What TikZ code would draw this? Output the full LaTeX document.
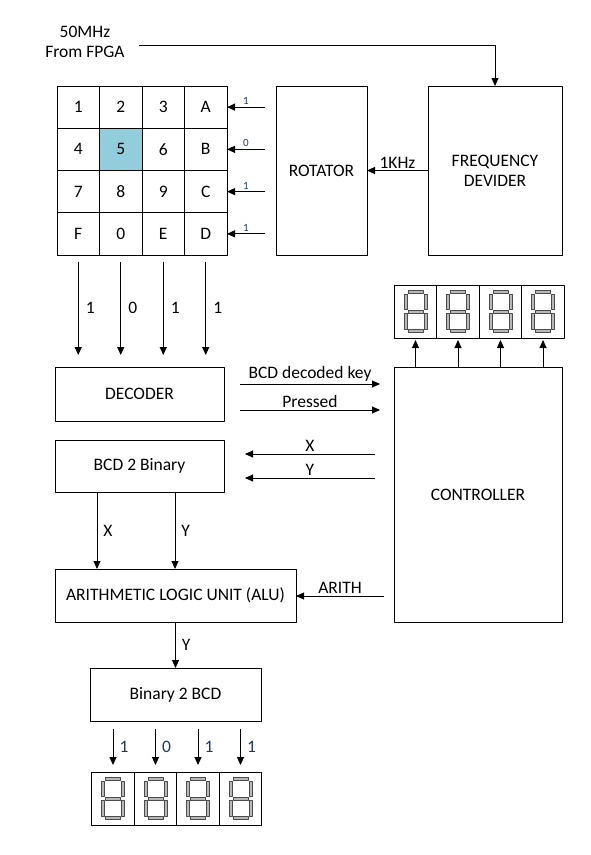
\documentclass[tikz,border=0pt]{standalone}
\usepackage{fontspec}
\setmainfont{Carlito}
\usetikzlibrary{arrows.meta,positioning,calc}

\definecolor{keyblue}{HTML}{92CDDC}
\definecolor{bitblue}{HTML}{1F3864}

\tikzset{
  blk/.style={draw,line width=0.8pt,inner sep=0pt,outer sep=0pt,font=\fontsize{17.5}{20}\selectfont},
  keycell/.style={blk,minimum width=42.5pt,minimum height=42.25pt},
  digcell/.style={draw,line width=0.8pt,inner sep=0pt,outer sep=0pt,minimum width=42.5pt,minimum height=53pt},
  sig/.style={line width=0.9pt,-{Triangle[length=8pt,width=7pt]}},
  lbl/.style={font=\fontsize{17.5}{20}\selectfont,inner sep=1pt},
  bit/.style={font=\fontsize{17.5}{20}\selectfont,text=bitblue,inner sep=1pt},
  tinybit/.style={font=\fontsize{11}{13}\selectfont,text=bitblue,inner sep=1pt},
  seg/.style={fill=black!28,draw=black!70,line width=0.6pt},
  sevenseg/.pic={
    \foreach \sy in {-19.5,0,19.5}{\filldraw[seg] (-7.5,\sy-1.6) rectangle (7.5,\sy+1.6);}
    \foreach \sx in {-10,10}{
      \filldraw[seg] (\sx-1.6,-17.5) rectangle (\sx+1.6,-2);
      \filldraw[seg] (\sx-1.6,2) rectangle (\sx+1.6,17.5);
    }
  }
}

\begin{document}
\begin{tikzpicture}[x=1pt,y=-1pt,line join=round]
  \useasboundingbox (0,0) rectangle (590,855);

  % keypad
  \foreach \lab [count=\i from 0] in {1,2,3,A,4,5,6,B,7,8,9,C,F,0,E,D}{
    \pgfmathtruncatemacro\r{int(\i/4)}
    \pgfmathtruncatemacro\c{mod(\i,4)}
    \edef\cellfill{\ifnum\i=5 keyblue\else none\fi}
    \node[keycell,fill=\cellfill] (key\i) at (78.25+42.5*\c,107.1+42.25*\r) {\lab};
  }

  % blocks
  \node[blk,minimum width=91pt,minimum height=169pt] (rot) at (321.5,170.5) {ROTATOR};
  \node[blk,minimum width=134pt,minimum height=169pt,align=center] (freq) at (495,170.5) {FREQUENCY\\DEVIDER};
  \node[blk,minimum width=169pt,minimum height=54pt] (dec) at (139.5,394) {DECODER};
  \node[blk,minimum width=169pt,minimum height=52pt] (bcdbin) at (139.5,466) {BCD 2 Binary};
  \node[blk,minimum width=168pt,minimum height=255pt] (ctrl) at (478,494.5) {CONTROLLER};
  \node[blk,minimum width=241pt,minimum height=53pt] (alu) at (175.5,595.5) {ARITHMETIC LOGIC UNIT (ALU)};
  \node[blk,minimum width=171pt,minimum height=53pt] (binbcd) at (175.5,694.5) {Binary 2 BCD};

  % seven segment displays
  \foreach \i in {0,...,3}{
    \node[digcell] (top\i) at (415.5+42.5*\i,311.5) {};
    \pic at (top\i.center) {sevenseg};
    \node[digcell] (bot\i) at (113+42.5*\i,798.5) {};
    \pic at (bot\i.center) {sevenseg};
  }

  % clock
  \node[lbl,align=center] (fpga) at (85,42) {50MHz\\From FPGA};
  \coordinate (clk) at (139,45);
  \draw[sig] (clk) -| (freq.north);
  \draw[sig] (freq.west) -- node[lbl,above=1pt] (khz) {1KHz} (rot.east);

  % rotator to keypad rows
  \foreach \k/\b in {3/1,7/0,11/1,15/1}{
    \coordinate (row\k) at ($(key\k.east)+(38,0)$);
    \draw[sig] (row\k) -- node[tinybit,above=1pt] (rb\k) {\b} (key\k.east);
  }

  % keypad columns to decoder
  \foreach \k/\b in {12/1,13/0,14/1,15/1}{
    \coordinate (cs\k) at ($(key\k.south)+(0,7)$);
    \coordinate (ce\k) at (cs\k |- 0,355);
    \draw[sig] (cs\k) -- (ce\k);
    \node[lbl] (cb\k) at ($(cs\k)+(12,46)$) {\b};
  }

  % decoder / controller
  \coordinate (k1) at (240,384);  \coordinate (k2) at (380,384);
  \coordinate (p1) at (240,410);  \coordinate (p2) at (380,410);
  \draw[sig] (k1) -- node[lbl,above=1pt] (keytxt) {BCD decoded key} (k2);
  \draw[sig] (p1) -- node[lbl,above=1pt] (prtxt) {Pressed} (p2);
  \coordinate (x1) at (375,454);  \coordinate (x2) at (245,454);
  \coordinate (y1) at (375,478);  \coordinate (y2) at (245,478);
  \draw[sig] (x1) -- node[lbl,above=1pt] (xtxt) {X} (x2);
  \draw[sig] (y1) -- node[lbl,above=1pt] (ytxt) {Y} (y2);

  % controller to displays
  \foreach \i in {0,...,3}{
    \draw[sig] (ctrl.north -| top\i.south) -- ($(top\i.south)+(0,2)$);
  }

  % binary path
  \draw[sig] (bcdbin.south -| 97,0) -- node[lbl,right=5pt] (xa) {X} (alu.north -| 97,0);
  \draw[sig] (bcdbin.south -| 175,0) -- node[lbl,right=5pt] (ya) {Y} (alu.north -| 175,0);
  \coordinate (ar) at (384,596);
  \draw[sig] (ar) -- node[lbl,above=1pt] (artxt) {ARITH} (ar -| alu.east);
  \draw[sig] (alu.south) -- node[lbl,right=5pt] (yb) {Y} (binbcd.north);

  % bcd to bottom display
  \foreach \i/\b in {0/1,1/0,2/1,3/1}{
    \coordinate (bs\i) at (bot\i.north |- 0,729);
    \draw[sig] (bs\i) -- ($(bot\i.north)+(0,-7)$);
    \node[bit] (bb\i) at ($(bs\i)+(11,18)$) {\b};
  }
\end{tikzpicture}
\end{document}
